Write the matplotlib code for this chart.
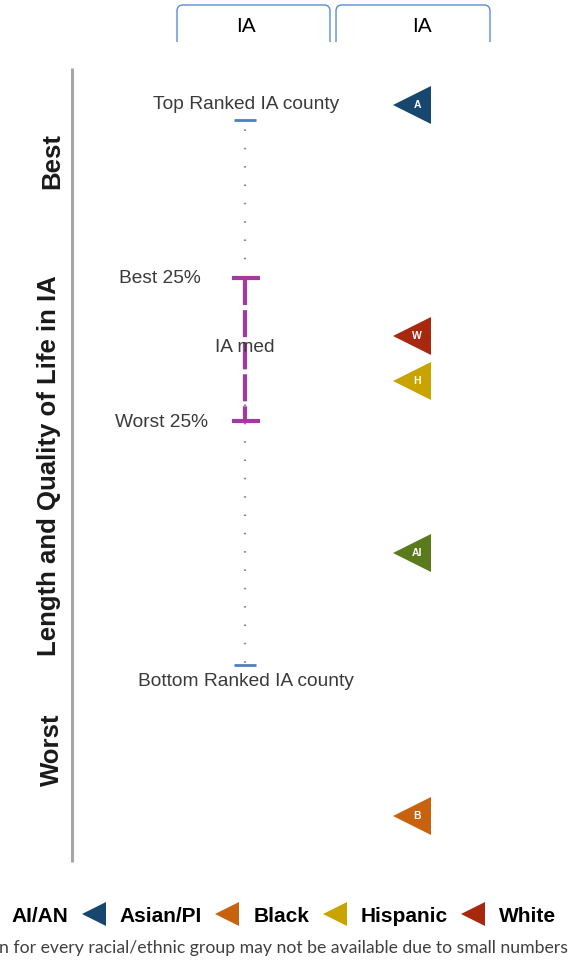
import matplotlib
matplotlib.use("Agg")
import matplotlib.pyplot as plt
from matplotlib.path import Path
from matplotlib.patches import PathPatch
from matplotlib.lines import Line2D

plt.rcParams['font.family'] = ['Liberation Sans', 'DejaVu Sans']

# ---------------- data ----------------
# rank scale: 0 = top ranked county, 100 = bottom ranked county
county_top = 0.0
county_bottom = 100.0
county_best25 = 29.0
county_worst25 = 55.2
county_median = 41.8

groups = ["AI/AN", "Asian/PI", "Black", "Hispanic", "White"]
group_letters = ["AI", "A", "B", "H", "W"]
group_values = [79.5, -2.7, 127.7, 47.8, 39.7]
group_colors = ["#5b7a1c", "#17466f", "#c8620e", "#c9a400", "#a7280f"]

header_labels = ["IA", "IA"]
state = "IA"

# ---------------- figure ----------------
W, H = 572, 961
fig = plt.figure(figsize=(W / 100, H / 100), dpi=100)

deco = fig.add_axes([0, 0, 1, 1])
deco.set_xlim(0, W)
deco.set_ylim(H, 0)
deco.axis('off')
deco.patch.set_alpha(0)

ax = fig.add_axes([0, 0, 1, 1])
ax.axis('off')
ax.patch.set_alpha(0)
ax.set_xlim(-1.467, 1.958)
ax.set_ylim(154.31, -22.018)

purple = "#a33a9f"
blue = "#4f7fbf"
txt = "#3a3a3a"

# county column (x = 0)
ax.plot([0, 0], [county_top, county_bottom], color="#8088a8", lw=1.6,
        linestyle=(4, (0.7, 7.55)), zorder=1)
for v in (county_top, county_bottom):
    ax.plot([-0.066, 0.066], [v, v], color=blue, lw=2, solid_capstyle='butt', zorder=2)
for v in (county_best25, county_worst25):
    ax.plot([-0.075, 0.09], [v, v], color=purple, lw=3, solid_capstyle='butt', zorder=3)
ax.plot([0, 0], [county_best25, county_worst25], color=purple, lw=3,
        linestyle=(0, (6.5, 1.2)), solid_capstyle='butt', zorder=3)

fs = 13.8
ax.annotate(f"Top Ranked {state} county", (0, county_top), xytext=(1, 11.5),
            textcoords='offset points', ha='center', va='center', fontsize=fs, color=txt)
ax.annotate(f"Bottom Ranked {state} county", (0, county_bottom), xytext=(0.5, -12.2),
            textcoords='offset points', ha='center', va='center', fontsize=fs, color=txt)
ax.annotate("Best 25%", (0, county_best25), xytext=(-61, 0),
            textcoords='offset points', ha='center', va='center', fontsize=fs, color=txt)
ax.annotate("Worst 25%", (0, county_worst25), xytext=(-60, -1.5),
            textcoords='offset points', ha='center', va='center', fontsize=fs, color=txt)
ax.annotate(f"{state} med", (0, county_median), xytext=(0, 0),
            textcoords='offset points', ha='center', va='center', fontsize=fs, color=txt, zorder=5)

# race column (x = 1)
for lab, letter, v, c in zip(groups, group_letters, group_values, group_colors):
    ax.plot([1], [v], marker='<', markersize=28, color=c, markeredgewidth=0, linestyle='none', zorder=4)
    ax.annotate(letter, (1, v), xytext=(3.8, 0), textcoords='offset points',
                ha='center', va='center', fontsize=7.5, color='white', weight='bold', zorder=5)

# header tabs
def tab(x0, x1, y0=5, y1=42, r=6):
    verts = [(x0, y1), (x0, y0 + r), (x0, y0), (x0 + r, y0), (x1 - r, y0), (x1, y0),
             (x1, y0 + r), (x1, y1)]
    codes = [Path.MOVETO, Path.LINETO, Path.CURVE3, Path.CURVE3, Path.LINETO,
             Path.CURVE3, Path.CURVE3, Path.LINETO]
    deco.add_patch(PathPatch(Path(verts, codes), facecolor='none', edgecolor="#5b8bd3", lw=1))

tab(177, 330)
tab(336, 490)
deco.text(246, 27, header_labels[0], ha='center', va='center', fontsize=15, color='black')
deco.text(422, 27, header_labels[1], ha='center', va='center', fontsize=15, color='black')

# left axis
deco.plot([72, 72], [68, 862], color="#a6a6a6", lw=2.2, solid_capstyle='butt')
deco.text(52, 161, "Best", rotation=90, ha='center', va='center', fontsize=18.5,
          weight='bold', color="#1a1a1a")
deco.text(52, 750, "Worst", rotation=90, ha='center', va='center', fontsize=18.5,
          weight='bold', color="#1a1a1a")
deco.text(49, 466, f"Length and Quality of Life in {state}", rotation=90, ha='center',
          va='center', fontsize=18.5, weight='bold', color="#1a1a1a")

# legend
handles = [Line2D([], [], marker='<', markersize=17, color=c, markeredgewidth=0,
                  linestyle='none') for c in group_colors]
fig.legend(handles, groups, loc='center left', bbox_to_anchor=(-25 / W, (H - 916) / H),
           ncol=5, frameon=False, borderpad=0, borderaxespad=0, handlelength=1.0,
           handletextpad=0.75, columnspacing=0.72,
           prop={'family': 'Liberation Sans', 'weight': 'bold', 'size': 15})

# footnote
deco.text(568, 948, "n for every racial/ethnic group may not be available due to small numbers",
          ha='right', va='center', fontsize=12.7, color="#404040", family='Lato')

fig.savefig("out.png", dpi=100)
